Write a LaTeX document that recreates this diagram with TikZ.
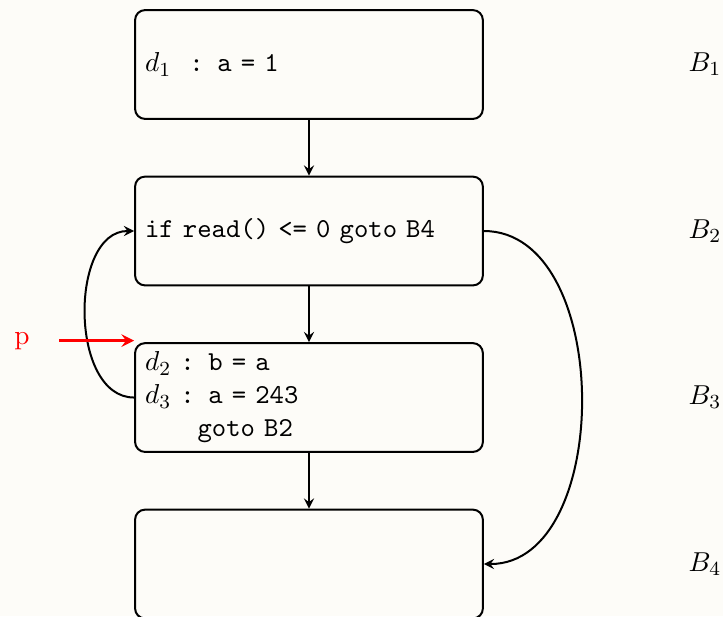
\documentclass[11pt,tikz,border=0pt]{standalone}
\usetikzlibrary{positioning}
\definecolor{paper}{RGB}{253,252,248}
\begin{document}
\begin{tikzpicture}[>=stealth]
% Parameters
\def\boxW{4.89cm}
\def\boxH{1.53cm}
\def\boxX{4.344}
\def\labelX{9.912}
\def\stepY{2.341}

\pgfmathsetmacro\yOne{7.754}
\pgfmathsetmacro\yTwo{\yOne-\stepY}
\pgfmathsetmacro\yThree{\yTwo-\stepY}
\pgfmathsetmacro\yFour{\yThree-\stepY}

\tikzset{
  block/.style={draw,thick,rounded corners=4pt,minimum height=\boxH,
    text width=\boxW-8pt,inner xsep=4pt,inner ysep=2pt,align=left,font=\ttfamily},
  flow/.style={thick,->}
}

% Paper
\fill[paper] (0,0) rectangle (10.165,8.661);
\useasboundingbox (0,0) rectangle (10.165,8.661);

% Basic blocks
\node[block] (b1) at (\boxX,\yOne){$d_1$\ \ : a = 1};
\node[block] (b2) at (\boxX,\yTwo){if read() <= 0 goto B4};
\node[block] (b3) at (\boxX,\yThree){$d_2$ : b = a\\[-0.4pt]
  $d_3$ : a = 243\\[-0.4pt]
  \hspace*{21pt}goto B2};
\node[block] (b4) at (\boxX,\yFour){};

% Block names
\node (n1) at (\labelX,\yOne){$B_1$};
\node (n2) at (\labelX,\yTwo){$B_2$};
\node (n3) at (\labelX,\yThree){$B_3$};
\node (n4) at (\labelX,\yFour){$B_4$};

% Edges
\draw[flow] (b1) -- (b2);
\draw[flow] (b2) -- (b3);
\draw[flow] (b3) -- (b4);
\draw[flow] (b3.west) to[out=180,in=180] (b2.west);
\draw[flow] (b2.east) to[out=0,in=0] (b4.east);

% Program point
\node[text=red] (p) at (0.309,\yThree+0.8){p};
\draw[red,very thick,->,shorten <=8pt] (p.east) -- (p.east -| b3.west);
\end{tikzpicture}
\end{document}
